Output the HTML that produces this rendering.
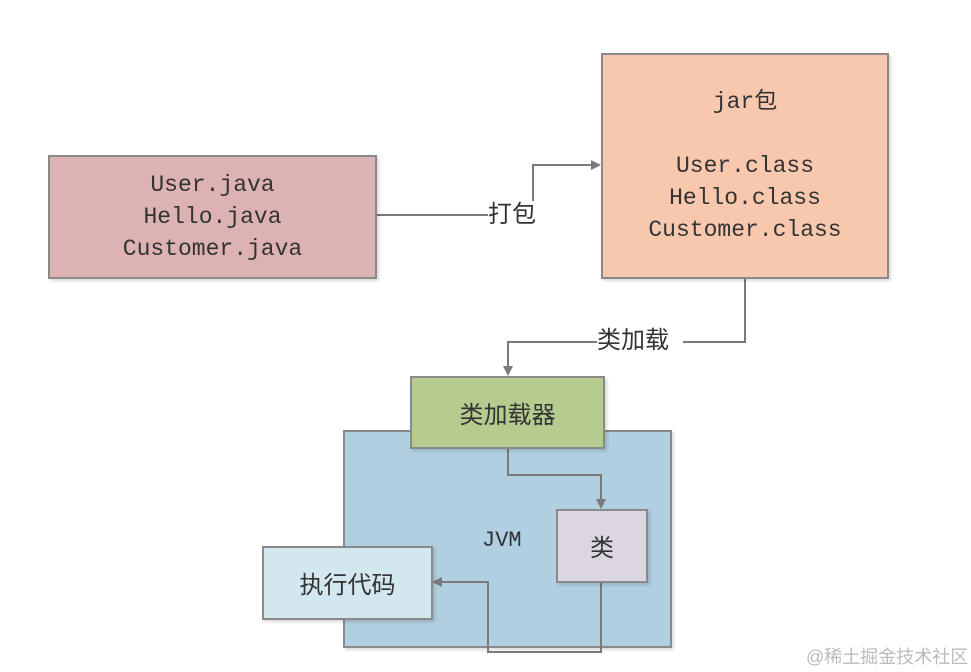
<!DOCTYPE html>
<html><head><meta charset="utf-8"><style>
body{margin:0;width:971px;height:672px;background:#fff;position:relative;overflow:hidden;font-family:"Liberation Mono","Noto Sans CJK SC",monospace;}
.b{position:absolute;box-sizing:border-box;border:2px solid #8a8a8a;display:flex;align-items:center;justify-content:center;text-align:center;color:#333;font-size:23px;line-height:32px;box-shadow:2px 2px 3px rgba(0,0,0,.15);}
.t{position:absolute;font-family:"Liberation Sans","Noto Sans CJK SC",sans-serif;color:#333;font-size:24px;line-height:28px;background:#fff;}
</style></head><body>
<div class="b" style="left:343px;top:430px;width:329px;height:218px;background:#b0cfe0;"></div>
<svg style="position:absolute;left:0;top:0" width="971" height="672">
<g fill="none" stroke="#7a7a7a" stroke-width="2">
<path d="M376 215H488"/>
<path d="M533 205V165H596"/>
<path d="M745 278V342H683"/>
<path d="M597 342H508V370"/>
<path d="M508 448V475H601V503"/>
<path d="M601 582V652H488V582H438"/>
</g>
<g fill="#7a7a7a">
<path d="M601 165l-10-5v10z"/>
<path d="M508 376l-5-10h10z"/>
<path d="M601 509l-5-10h10z"/>
<path d="M432 582l10-5v10z"/>
</g>
</svg>
<div class="b" style="left:48px;top:155px;width:329px;height:124px;background:#dcb2b2;">User.java<br>Hello.java<br>Customer.java</div>
<div class="b" style="left:601px;top:53px;width:288px;height:226px;background:#f8c8ae;">jar包<br><br>User.class<br>Hello.class<br>Customer.class</div>
<div class="b" style="left:410px;top:376px;width:195px;height:73px;background:#b5cc8e;font-family:'Noto Sans CJK SC',sans-serif;font-size:24px;">类加载器</div>
<div class="b" style="left:556px;top:509px;width:92px;height:74px;background:#dcd5e2;font-family:'Noto Sans CJK SC',sans-serif;font-size:24px;">类</div>
<div class="b" style="left:262px;top:546px;width:171px;height:74px;background:#d3e7ef;font-family:'Noto Sans CJK SC',sans-serif;font-size:24px;">执行代码</div>
<div style="position:absolute;left:482px;top:528px;font-size:22px;color:#333;">JVM</div>
<div class="t" style="left:488px;top:201px;">打包</div>
<div class="t" style="left:597px;top:327px;">类加载</div>
<div style="position:absolute;left:806px;top:643px;font-family:'Liberation Sans','Noto Sans CJK SC',sans-serif;font-size:18px;color:#bbb;">@稀土掘金技术社区</div>
</body></html>
